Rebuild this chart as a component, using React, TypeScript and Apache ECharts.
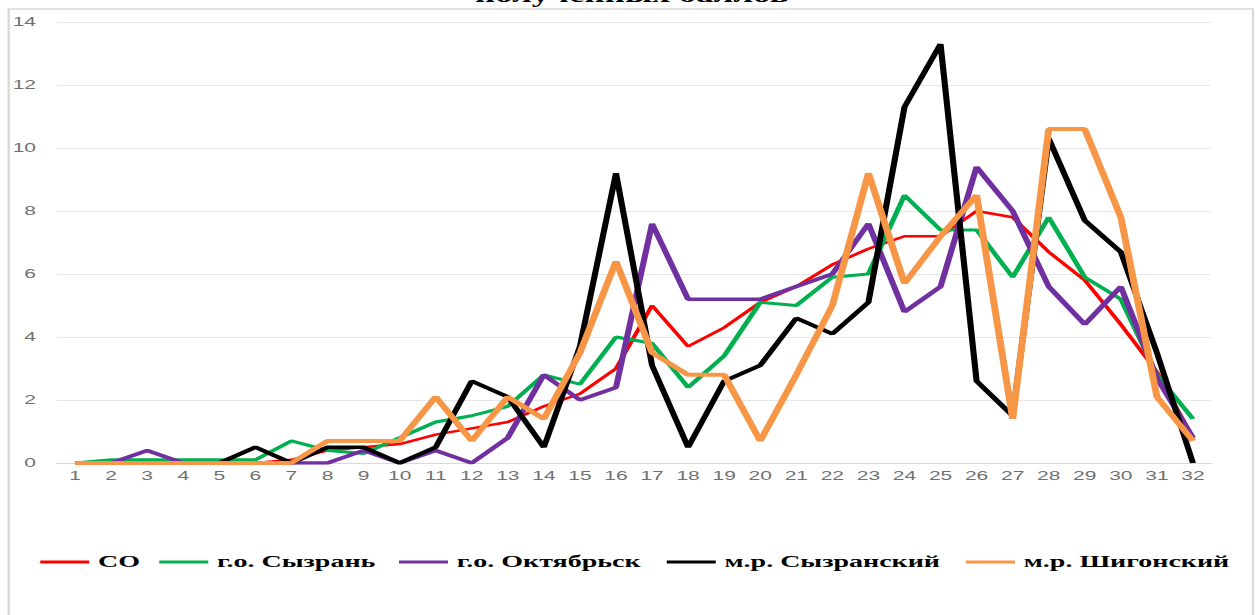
import React, { useEffect, useRef } from "react";
import * as echarts from "echarts";

const categories = Array.from({ length: 32 }, (_, i) => String(i + 1));
const yTicks = [0, 2, 4, 6, 8, 10, 12, 14];

const seriesNames = ["СО", "г.о. Сызрань", "г.о. Октябрьск", "м.р. Сызранский", "м.р. Шигонский"];

const valuesSO = [0, 0, 0, 0, 0, 0, 0.1, 0.4, 0.5, 0.6, 0.9, 1.1, 1.3, 1.8, 2.2, 3.0, 5.0, 3.7, 4.3, 5.1, 5.6, 6.3, 6.8, 7.2, 7.2, 8.0, 7.8, 6.7, 5.8, 4.4, 2.9, 0.8];
const valuesSyzran = [0, 0.1, 0.1, 0.1, 0.1, 0.1, 0.7, 0.4, 0.3, 0.8, 1.3, 1.5, 1.8, 2.8, 2.5, 4.0, 3.8, 2.4, 3.4, 5.1, 5.0, 5.9, 6.0, 8.5, 7.4, 7.4, 5.9, 7.8, 5.9, 5.2, 2.8, 1.4];
const valuesOktyabrsk = [0, 0, 0.4, 0, 0, 0, 0, 0, 0.4, 0, 0.4, 0, 0.8, 2.8, 2.0, 2.4, 7.6, 5.2, 5.2, 5.2, 5.6, 6.0, 7.6, 4.8, 5.6, 9.4, 8.0, 5.6, 4.4, 5.6, 2.7, 0.8];
const valuesSyzranskiy = [0, 0, 0, 0, 0, 0.5, 0, 0.5, 0.5, 0, 0.5, 2.6, 2.1, 0.5, 3.7, 9.2, 3.1, 0.5, 2.6, 3.1, 4.6, 4.1, 5.1, 11.3, 13.3, 2.6, 1.5, 10.3, 7.7, 6.7, 3.5, 0];
const valuesShigonskiy = [0, 0, 0, 0, 0, 0, 0, 0.7, 0.7, 0.7, 2.1, 0.7, 2.1, 1.4, 3.5, 6.4, 3.5, 2.8, 2.8, 0.7, 2.8, 5.0, 9.2, 5.7, 7.2, 8.5, 1.4, 10.6, 10.6, 7.8, 2.1, 0.7];

const titleText = "полученных баллов";

const colors = ["#FF0000", "#00B050", "#7030A0", "#000000", "#F79646"];
const widths = [2.5, 3, 3.5, 3.5, 4];
const allValues = [valuesSO, valuesSyzran, valuesOktyabrsk, valuesSyzranskiy, valuesShigonskiy];

const STRETCH = 1.75;
const W = 717;
const H = 615;
const legendLefts = [23, 91, 228, 381, 552];

export default function App() {
  const ref = useRef<HTMLDivElement>(null);
  useEffect(() => {
    if (!ref.current) return;
    const chart = echarts.init(ref.current, null, { renderer: "svg" });
    const serif = "'Liberation Serif', 'Times New Roman', serif";
    chart.setOption({
      animation: false,
      backgroundColor: "#ffffff",
      graphic: [
        {
          type: "rect",
          shape: { x: 5, y: 9, width: 711, height: 640 },
          style: { fill: "none", stroke: "#d9d9d9", lineWidth: 1.3 },
          silent: true,
        },
        {
          type: "text",
          x: 361,
          y: -5,
          style: {
            text: titleText,
            font: `bold 20px ${serif}`,
            fill: "#000",
            align: "center",
            verticalAlign: "middle",
          },
        },
      ],
      grid: { left: 32.6, right: 25, top: 22, bottom: 152 },
      legend: seriesNames.map((name, i) => ({
        data: [name],
        left: legendLefts[i],
        top: 554,
        padding: 0,
        icon: "rect",
        itemWidth: 28,
        itemHeight: 3,
        textStyle: { fontFamily: serif, fontWeight: "bold", fontSize: 16, color: "#000" },
      })),
      xAxis: {
        type: "category",
        data: categories,
        boundaryGap: true,
        axisLine: { show: true, lineStyle: { color: "#d9d9d9", width: 1 } },
        axisTick: { show: false },
        axisLabel: { color: "#707070", fontSize: 12, fontFamily: "'Liberation Sans', sans-serif", margin: 7 },
      },
      yAxis: {
        type: "value",
        min: 0,
        max: 14,
        interval: 2,
        axisLine: { show: false },
        axisTick: { show: false },
        splitLine: { lineStyle: { color: "#e6e6e6", width: 1 } },
        axisLabel: {
          color: "#707070",
          fontSize: 12,
          fontFamily: "'Liberation Sans', sans-serif",
          margin: 12,
          formatter: (v: number) => (yTicks.includes(v) ? String(v) : ""),
        },
      },
      series: seriesNames.map((name, i) => ({
        name,
        type: "line",
        data: allValues[i],
        symbol: "none",
        showSymbol: false,
        itemStyle: { color: colors[i] },
        lineStyle: { color: colors[i], width: widths[i] },
      })),
    });
    return () => chart.dispose();
  }, []);
  return (
    <div
      ref={ref}
      style={{
        position: "absolute",
        left: 0,
        top: 0,
        width: W,
        height: H,
        transform: `scaleX(${STRETCH})`,
        transformOrigin: "0 0",
      }}
    />
  );
}
